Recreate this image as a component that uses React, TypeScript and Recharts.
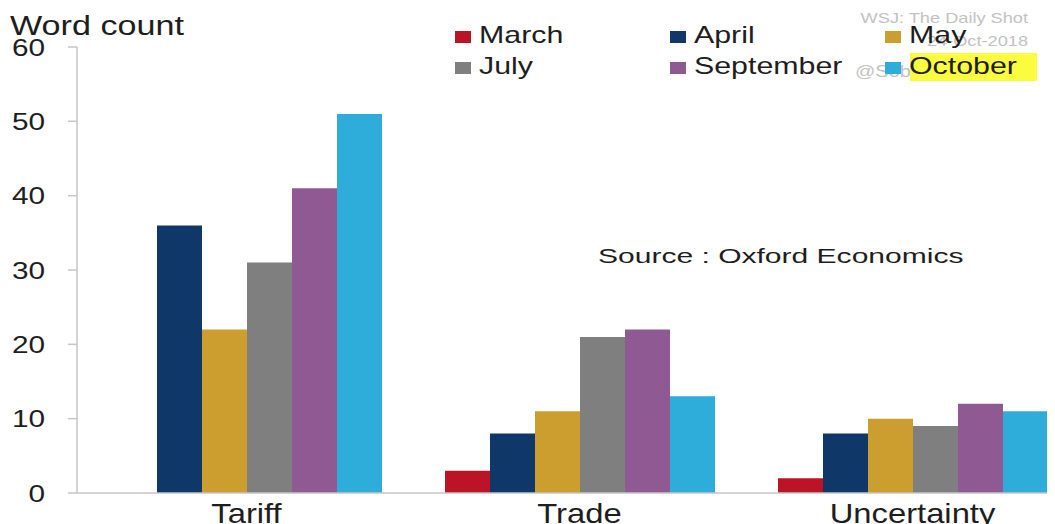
import React from 'react';
import { BarChart, Bar, XAxis, YAxis, Legend } from 'recharts';

const categories = ['Tariff', 'Trade', 'Uncertainty'];
const march = [0, 3, 2];
const april = [36, 8, 8];
const may = [22, 11, 10];
const july = [31, 21, 9];
const september = [41, 22, 12];
const october = [51, 13, 11];
const yTicks = [0, 10, 20, 30, 40, 50, 60];

const seriesNames = ['March', 'April', 'May', 'July', 'September', 'October'];
const seriesColors = ['#bb1426', '#0f3868', '#cc9e30', '#7f7f7f', '#8f5993', '#2eaddb'];
const seriesValues = [march, april, may, july, september, october];

const data = categories.map((c, i) => {
  const row: any = { category: c };
  seriesNames.forEach((n, j) => {
    row[n] = seriesValues[j][i];
  });
  return row;
});

const FONT = '"Liberation Sans", Arial, Helvetica, sans-serif';
const TEXT = '#1e1e1e';
const AXIS = '#c6c6c6';

const W = 1100;
const H = 540;

function YTick(props: any) {
  const { x, y, payload } = props;
  return (
    <g transform={`translate(${x},${y})`}>
      <text textAnchor="end" dy="0.36em" fontSize={24} fill={TEXT} fontFamily={FONT} transform="scale(1.24,1)">
        {payload.value}
      </text>
    </g>
  );
}

function XTick(props: any) {
  const { x, y, payload } = props;
  return (
    <g transform={`translate(${x},${y})`}>
      <text textAnchor="middle" dy={20} fontSize={28} fill={TEXT} fontFamily={FONT} transform="scale(1.17,1)">
        {payload.value}
      </text>
    </g>
  );
}

const colX = [447, 662, 877];
const rowY = [23, 54];

function renderLegend(props: any) {
  const payload = [...(props.payload || [])].sort(
    (a: any, b: any) => seriesNames.indexOf(a.value) - seriesNames.indexOf(b.value)
  );
  return (
    <svg width={W} height={H} style={{ position: 'absolute', left: 0, top: 0, overflow: 'visible', pointerEvents: 'none' }}>
      <g transform="translate(2,27) scale(1.22,1)">
        <text fontSize={28} fill={TEXT} fontFamily={FONT}>Word count</text>
      </g>
      <g fill="#c2c2c2" fontFamily={FONT}>
        <g transform="translate(1020,15) scale(1.3,1)">
          <text textAnchor="end" fontSize={14}>WSJ: The Daily Shot</text>
        </g>
        <g transform="translate(1020,38) scale(1.3,1)">
          <text textAnchor="end" fontSize={14}>24-Oct-2018</text>
        </g>
        <g transform="translate(847,69) scale(1.25,1)">
          <text fontSize={16}>@SoberLook</text>
        </g>
      </g>
      <g transform="translate(590,255) scale(1.43,1)">
        <text fontSize={21} fill={TEXT} fontFamily={FONT}>Source : Oxford Economics</text>
      </g>
      {payload.map((entry: any, i: number) => {
        const cx = colX[i % 3];
        const ry = rowY[Math.floor(i / 3)];
        const highlight = entry.value === 'October';
        return (
          <g key={entry.value}>
            {highlight && <rect x={cx + 25} y={ry - 9} width={127} height={28} fill="#fbfb3f" />}
            <rect x={cx} y={ry} width={16} height={12} fill={entry.color} />
            <g transform={`translate(${cx + 24},${ry + 12}) scale(1.32,1)`}>
              <text fontSize={23} fill={TEXT} fontFamily={FONT}>{entry.value}</text>
            </g>
          </g>
        );
      })}
    </svg>
  );
}

export default function App() {
  return (
    <div style={{ position: 'relative', width: 1047, height: 516, overflow: 'hidden', background: '#fff' }}>
      <BarChart
        width={W}
        height={H}
        data={data}
        margin={{ top: 39, right: 29, left: 0, bottom: 25 }}
        barCategoryGap={32}
        barGap={0}
      >
        <XAxis
          dataKey="category"
          tick={<XTick />}
          tickLine={false}
          tickSize={0}
          tickMargin={10}
          height={30}
          padding={{ left: 3, right: 0 }}
          axisLine={{ stroke: AXIS, strokeWidth: 1.5 }}
          interval={0}
        />
        <YAxis
          domain={[0, 60]}
          ticks={yTicks}
          tick={<YTick />}
          tickSize={9}
          tickMargin={23}
          width={69}
          axisLine={{ stroke: AXIS, strokeWidth: 1.5 }}
          tickLine={{ stroke: AXIS, strokeWidth: 1.5 }}
          interval={0}
        />
        <Legend
          content={renderLegend}
          wrapperStyle={{ position: 'absolute', left: 0, top: 0, width: 0, height: 0, overflow: 'visible' }}
        />
        {seriesNames.map((n, j) => (
          <Bar key={n} dataKey={n} name={n} fill={seriesColors[j]} isAnimationActive={false} />
        ))}
      </BarChart>
    </div>
  );
}
